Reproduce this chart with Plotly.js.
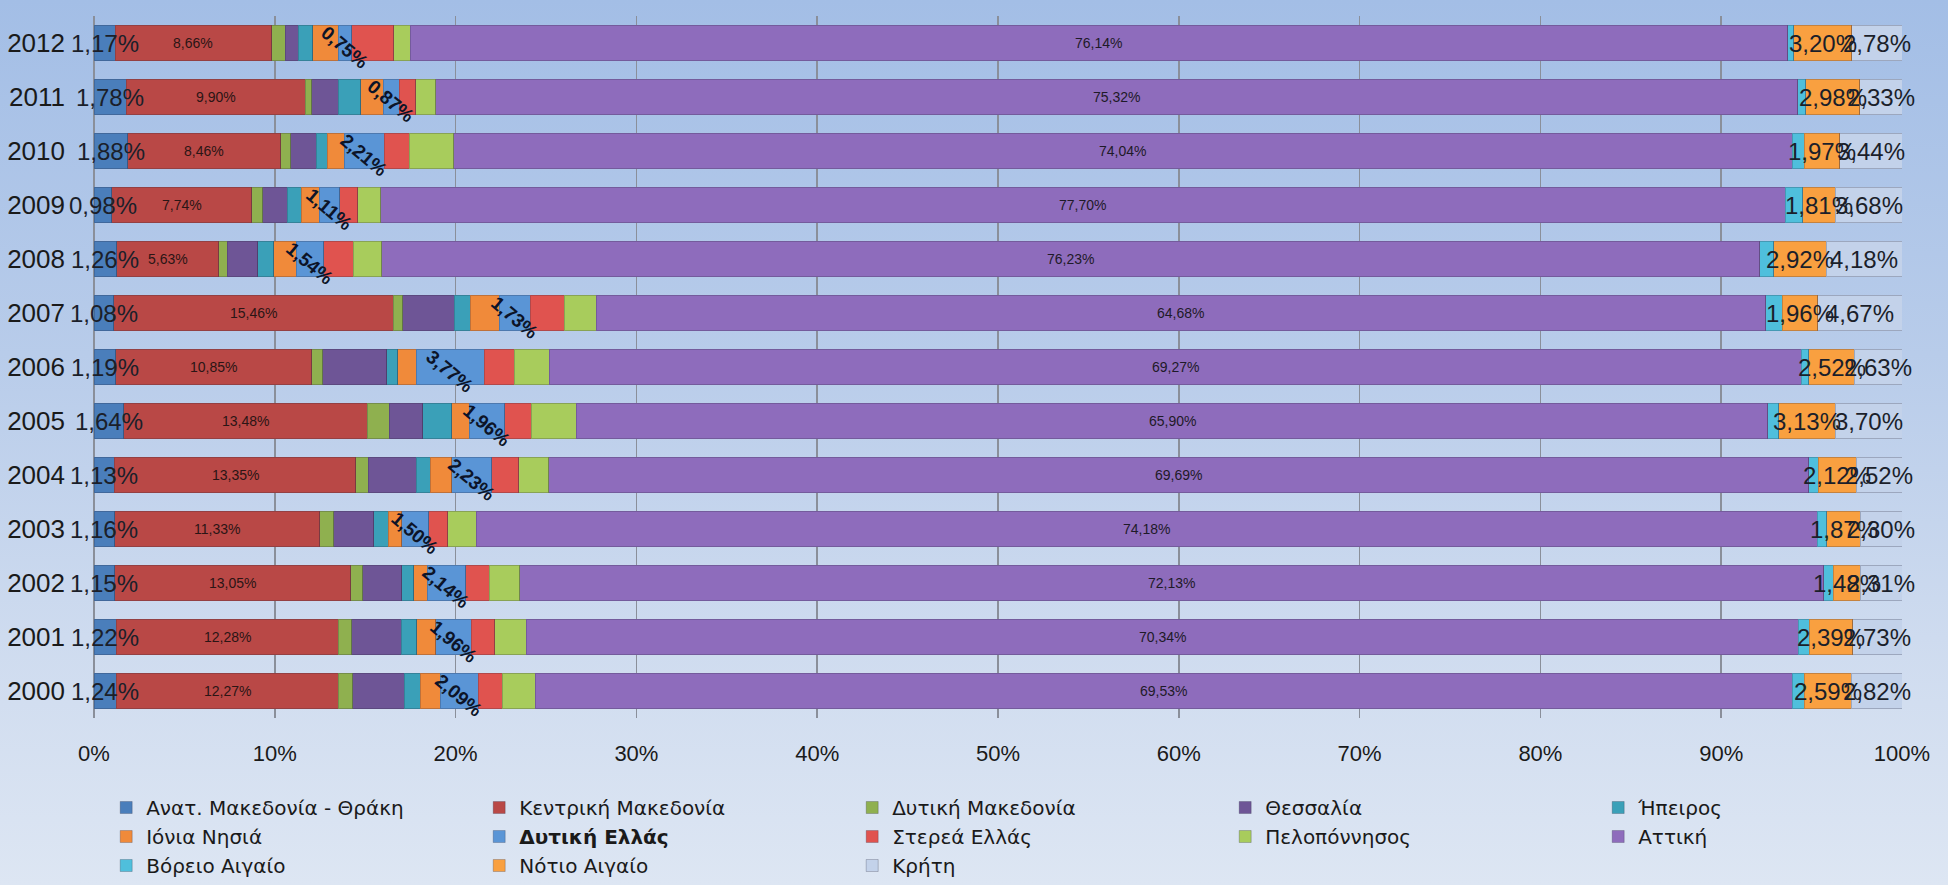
<!DOCTYPE html>
<html>
<head>
<meta charset="utf-8">
<script src="https://cdn.plot.ly/plotly-3.0.1.min.js"></script>
<style>
html,body{margin:0;padding:0;}
body{width:1948px;height:885px;overflow:hidden;background:linear-gradient(to bottom,#a3bee6 0%,#b8ccea 40%,#cedbef 72%,#dde6f3 100%);}
#chart{width:1948px;height:885px;}
</style>
</head>
<body>
<div id="chart"></div>
<script>
// Years (categories on the y axis, bottom to top)
const years = ['2000','2001','2002','2003','2004','2005','2006','2007','2008','2009','2010','2011','2012'];

// Regions (series, in stacking order)
const regions = [
  'Ανατ. Μακεδονία - Θράκη', 'Κεντρική Μακεδονία', 'Δυτική Μακεδονία', 'Θεσσαλία', 'Ήπειρος',
  'Ιόνια Νησιά', 'Δυτική Ελλάς', 'Στερεά Ελλάς', 'Πελοπόννησος', 'Αττική',
  'Βόρειο Αιγαίο', 'Νότιο Αιγαίο', 'Κρήτη'
];

// Shares (%) per region, one value per year 2000..2012
const anatMakedoniaThraki = [1.24, 1.22, 1.15, 1.16, 1.13, 1.64, 1.19, 1.08, 1.26, 0.98, 1.88, 1.78, 1.17];
const kentrikiMakedonia   = [12.27, 12.28, 13.05, 11.33, 13.35, 13.48, 10.85, 15.46, 5.63, 7.74, 8.46, 9.90, 8.66];
const dytikiMakedonia     = [0.80, 0.75, 0.66, 0.77, 0.69, 1.21, 0.61, 0.53, 0.47, 0.62, 0.53, 0.36, 0.73];
const thessalia           = [2.85, 2.73, 2.16, 2.21, 2.64, 1.85, 3.55, 2.86, 1.70, 1.34, 1.41, 1.48, 0.74];
const ipeiros             = [0.89, 0.88, 0.66, 0.81, 0.79, 1.60, 0.60, 0.88, 0.88, 0.78, 0.61, 1.23, 0.79];
const ioniaNisia          = [1.10, 1.05, 0.74, 0.74, 1.18, 0.98, 1.01, 1.60, 1.24, 1.01, 0.96, 1.26, 1.42];
const dytikiEllada        = [2.09, 1.96, 2.14, 1.50, 2.23, 1.96, 3.77, 1.73, 1.54, 1.11, 2.21, 0.87, 0.75];
const stereaEllada        = [1.33, 1.29, 1.29, 1.05, 1.47, 1.47, 1.66, 1.87, 1.62, 1.02, 1.38, 0.92, 2.30];
const peloponnisos        = [1.84, 1.75, 1.70, 1.57, 1.66, 2.49, 1.93, 1.76, 1.57, 1.25, 2.45, 1.10, 0.92];
const attiki              = [69.53, 70.34, 72.13, 74.18, 69.69, 65.90, 69.27, 64.68, 76.23, 77.70, 74.04, 75.32, 76.14];
const voreioAigaio        = [0.65, 0.63, 0.53, 0.51, 0.53, 0.59, 0.41, 0.92, 0.76, 0.96, 0.66, 0.46, 0.35];
const notioAigaio         = [2.59, 2.39, 1.48, 1.87, 2.12, 3.13, 2.52, 1.96, 2.92, 1.81, 1.97, 2.98, 3.20];
const kriti               = [2.82, 2.73, 2.31, 2.30, 2.52, 3.70, 2.63, 4.67, 4.18, 3.68, 3.44, 2.33, 2.78];

const seriesValues = [anatMakedoniaThraki, kentrikiMakedonia, dytikiMakedonia, thessalia, ipeiros,
  ioniaNisia, dytikiEllada, stereaEllada, peloponnisos, attiki, voreioAigaio, notioAigaio, kriti];

const colors = ['#4a7ebb', '#b94846', '#8fb04f', '#6e5596', '#3aa0b8',
  '#f08a3a', '#5a95d6', '#e0534f', '#a8cc5c', '#8e6cbc',
  '#4fbfdc', '#f9a040', '#c3d2ea'];

// Which series show value labels, and how
const labelStyle = {
  0:  {size: 24, angle: 0,  color: '#1b1f2a', bold: false, yshift: 0},
  1:  {size: 14, angle: 0,  color: '#2b1515', bold: false, yshift: 0},
  6:  {size: 19, angle: 40, color: '#0c1428', bold: true,  yshift: -4},
  9:  {size: 14, angle: 0,  color: '#1e1a28', bold: false, yshift: 0},
  11: {size: 24, angle: 0,  color: '#1b1f2a', bold: false, yshift: 0},
  12: {size: 24, angle: 0,  color: '#1b1f2a', bold: false, yshift: 0}
};

function fmt(v) { return v.toFixed(2).replace('.', ',') + '%'; }

const traces = regions.map((name, i) => ({
  type: 'bar',
  orientation: 'h',
  name: i === 6 ? '<b>' + name + '</b>' : name,
  y: years,
  x: seriesValues[i],
  marker: {color: colors[i], line: {color: 'rgba(40,40,60,0.25)', width: 1}},
  textposition: 'none',
  hoverinfo: 'name+x'
}));

// Value labels: at the middle of each (100%-normalised) segment, drawn above all bars.
// On a category axis annotations take the category's serial number (j).
const annotations = [];
years.forEach((yr, j) => {
  const total = seriesValues.reduce((s, arr) => s + arr[j], 0);
  let cum = 0;
  seriesValues.forEach((arr, i) => {
    const v = arr[j];
    const st = labelStyle[i];
    if (st) {
      const mid = (cum + v / 2) / total * 100;
      annotations.push({
        x: mid, y: j, xref: 'x', yref: 'y',
        text: st.bold ? '<b>' + fmt(v) + '</b>' : fmt(v),
        showarrow: false,
        xanchor: 'center', yanchor: 'middle',
        textangle: st.angle,
        yshift: st.yshift,
        font: {size: st.size, color: st.color, family: 'Liberation Sans, Arial, sans-serif'}
      });
    }
    cum += v;
  });
});

const layout = {
  width: 1948,
  height: 885,
  paper_bgcolor: 'rgba(0,0,0,0)',
  plot_bgcolor: 'rgba(0,0,0,0)',
  font: {family: 'Liberation Sans, Arial, sans-serif', color: '#1a1a1a'},
  margin: {l: 94, r: 46, t: 16, b: 167, autoexpand: false},
  barmode: 'stack',
  barnorm: 'percent',
  bargap: 0.35,
  showlegend: true,
  annotations: annotations,
  xaxis: {
    range: [0, 100],
    dtick: 10,
    ticksuffix: '%',
    showgrid: true,
    gridcolor: '#8a8f9a',
    gridwidth: 1.5,
    zeroline: true,
    zerolinecolor: '#8a8f9a',
    zerolinewidth: 1.5,
    showline: false,
    ticks: '',
    ticklabelstandoff: 20,
    tickfont: {size: 22, color: '#1a1a1a'},
    fixedrange: true
  },
  yaxis: {
    type: 'category',
    categoryorder: 'array',
    categoryarray: years,
    range: [-0.5, years.length - 0.5],
    showgrid: false,
    zeroline: false,
    ticks: '',
    ticklabelstandoff: 28,
    tickfont: {size: 26, color: '#1a1a1a'},
    fixedrange: true
  },
  legend: {
    orientation: 'h',
    x: -0.001,
    xanchor: 'left',
    y: -0.2379,
    yanchor: 'bottom',
    entrywidth: 314,
    entrywidthmode: 'pixels',
    indentation: 14,
    traceorder: 'normal',
    bgcolor: 'rgba(0,0,0,0)',
    font: {size: 20, color: '#1a1a1a', family: 'DejaVu Sans, Liberation Sans, sans-serif'}
  }
};

Plotly.newPlot('chart', traces, layout, {displayModeBar: false, staticPlot: true});
</script>
</body>
</html>
